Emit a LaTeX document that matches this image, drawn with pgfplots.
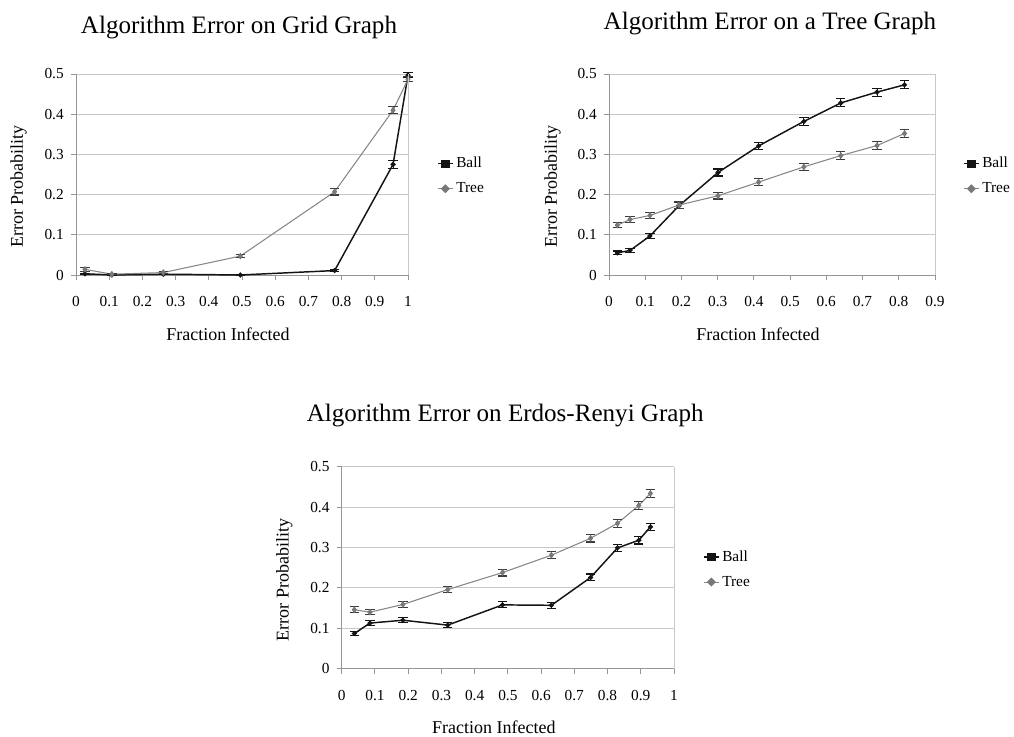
\documentclass[border=0pt]{standalone}
\usepackage{fontspec}
\setmainfont{Liberation Serif}
\usepackage{pgfplots}
\pgfplotsset{compat=1.18}
\definecolor{gridc}{RGB}{200,200,200}
\definecolor{axc}{RGB}{150,150,150}
\definecolor{treeln}{RGB}{135,135,135}
\definecolor{treemk}{RGB}{120,120,120}
\definecolor{ballc}{RGB}{20,20,20}
\definecolor{treeerr}{RGB}{60,60,60}

\pgfplotsset{
  errchart/.style={
    scale only axis, clip=false,
    axis lines=left, axis line style={axc, line width=0.7pt, -},
    ymin=0, ymax=0.5, ytick={0,0.1,0.2,0.3,0.4,0.5},
    ymajorgrids, grid style={gridc, line width=0.7pt},
    major tick style={axc, line width=0.7pt},
    tick align=outside, major tick length=3.75pt,
    /pgf/number format/assume math mode=true,
    /pgf/number format/fixed,
    tick label style={font=\fontsize{11.5}{13}\selectfont},
    yticklabel style={anchor=east, inner sep=0pt, xshift=-5.25pt},
    xticklabel style={anchor=base, inner sep=0pt, yshift=-20.25pt},
    label style={font=\fontsize{13.5}{16}\selectfont},
    title style={font=\fontsize{18.8}{22}\selectfont, anchor=base, at={(axis description cs:0.5,1)}},
    xlabel={Fraction Infected}, ylabel={Error Probability},
    xlabel style={at={(axis description cs:0.5,0)}, anchor=base, yshift=-49.3pt, xshift=-10.5pt},
    ylabel style={at={(axis description cs:-0.16,0.44)}, anchor=base},
    legend style={at={(axis description cs:1,0.5)}, anchor=west, draw=none, fill=none,
      inner sep=0pt, font=\fontsize{11.5}{13}\selectfont, row sep=5.6pt, yshift=-1.2pt,
      /tikz/every even column/.append style={column sep=1pt}},
    legend cell align=left,
    extra description/.code={\draw[gridc, line width=0.7pt] (axis description cs:1,0) -- (axis description cs:1,1);},
  },
  ballp/.style={ballc, line width=1.1pt, mark=*, mark size=1.3pt, mark options={solid, fill=ballc},
    legend image code/.code={\draw[ballc, line width=1pt] (0pt,0pt) -- (11.25pt,0pt); \fill[ballc] (2.6pt,-2.4pt) rectangle (8.6pt,2.4pt);},
    error bars/.cd, y dir=both, y explicit, error bar style={ballc, line width=0.8pt},
    error mark options={rotate=90, ballc, mark size=3.5pt, line width=0.8pt}},
  treep/.style={treeln, line width=0.8pt, mark=diamond*, mark size=1.9pt, mark options={solid, fill=treemk, draw=treemk},
    legend image code/.code={\draw[treeln, line width=0.8pt] (0pt,0pt) -- (11.25pt,0pt); \fill[treemk] (5.6pt,0pt) +(-2.8pt,0pt) -- +(0pt,2.8pt) -- +(2.8pt,0pt) -- +(0pt,-2.8pt) -- cycle;},
    error bars/.cd, y dir=both, y explicit, error bar style={treeerr, line width=0.8pt},
    error mark options={rotate=90, treeerr, mark size=3.5pt, line width=0.8pt}},
}

\begin{document}
\begin{tikzpicture}
\path[use as bounding box] (0pt,0pt) rectangle (760.5pt,552.75pt);

% ---------------- Grid graph ----------------
\begin{axis}[errchart, at={(57pt,346.5pt)}, anchor=south west,
  width=249pt, height=150.75pt,
  xmin=0, xmax=1, xtick={0,0.1,0.2,0.3,0.4,0.5,0.6,0.7,0.8,0.9,1},
  title={Algorithm Error on Grid Graph},
  title style={yshift=24.2pt, xshift=-2.25pt},
  legend style={xshift=21.75pt}]
\addplot[ballp] coordinates {
 (0.027,0.003) +- (0,0.0015)
 (0.108,0.000) +- (0,0.0005)
 (0.263,0.002) +- (0,0.001)
 (0.495,0.000) +- (0,0.0005)
 (0.779,0.011) +- (0,0.002)
 (0.955,0.275) +- (0,0.009)
 (1.000,0.497) +- (0,0.006)
};
\addlegendentry{Ball}
\addplot[treep] coordinates {
 (0.027,0.014) +- (0,0.005)
 (0.108,0.002) +- (0,0.001)
 (0.263,0.006) +- (0,0.002)
 (0.495,0.047) +- (0,0.004)
 (0.779,0.207) +- (0,0.008)
 (0.955,0.410) +- (0,0.009)
 (1.000,0.487) +- (0,0.006)
};
\addlegendentry{Tree}
\end{axis}

% ---------------- Tree graph ----------------
\begin{axis}[errchart, at={(456.75pt,346.5pt)}, anchor=south west,
  width=244.5pt, height=150.75pt,
  xmin=0, xmax=0.9, xtick={0,0.1,0.2,0.3,0.4,0.5,0.6,0.7,0.8,0.9},
  title={Algorithm Error on a Tree Graph},
  title style={yshift=27.7pt, xshift=-1.5pt},
  legend style={xshift=21pt}]
\addplot[ballp] coordinates {
 (0.023,0.055) +- (0,0.0046)
 (0.058,0.061) +- (0,0.0048)
 (0.113,0.097) +- (0,0.0059)
 (0.193,0.172) +- (0,0.0075)
 (0.301,0.255) +- (0,0.0087)
 (0.413,0.321) +- (0,0.0093)
 (0.538,0.382) +- (0,0.0097)
 (0.640,0.428) +- (0,0.0099)
 (0.740,0.455) +- (0,0.0100)
 (0.816,0.473) +- (0,0.0100)
};
\addlegendentry{Ball}
\addplot[treep] coordinates {
 (0.023,0.124) +- (0,0.0066)
 (0.058,0.138) +- (0,0.0069)
 (0.113,0.148) +- (0,0.0071)
 (0.193,0.174) +- (0,0.0076)
 (0.301,0.197) +- (0,0.0080)
 (0.413,0.231) +- (0,0.0084)
 (0.538,0.269) +- (0,0.0089)
 (0.640,0.297) +- (0,0.0091)
 (0.740,0.322) +- (0,0.0093)
 (0.816,0.352) +- (0,0.0096)
};
\addlegendentry{Tree}
\end{axis}

% ---------------- Erdos-Renyi graph ----------------
\begin{axis}[errchart, at={(256.3pt,51.2pt)}, anchor=south west,
  width=249.2pt, height=151.5pt,
  xmin=0, xmax=1, xtick={0,0.1,0.2,0.3,0.4,0.5,0.6,0.7,0.8,0.9,1},
  title={Algorithm Error on Erdos-Renyi Graph},
  title style={yshift=28pt, xshift=-2pt},
  xlabel style={yshift=0.55pt},
  legend style={xshift=21.75pt}]
\addplot[ballp] coordinates {
 (0.038,0.087) +- (0,0.0056)
 (0.085,0.113) +- (0,0.0063)
 (0.184,0.120) +- (0,0.0065)
 (0.319,0.108) +- (0,0.0062)
 (0.484,0.158) +- (0,0.0073)
 (0.631,0.157) +- (0,0.0073)
 (0.749,0.226) +- (0,0.0084)
 (0.830,0.299) +- (0,0.0092)
 (0.894,0.318) +- (0,0.0093)
 (0.929,0.351) +- (0,0.0095)
};
\addlegendentry{Ball}
\addplot[treep] coordinates {
 (0.038,0.146) +- (0,0.0071)
 (0.085,0.140) +- (0,0.0069)
 (0.184,0.159) +- (0,0.0073)
 (0.319,0.196) +- (0,0.0079)
 (0.484,0.238) +- (0,0.0085)
 (0.631,0.281) +- (0,0.0090)
 (0.749,0.323) +- (0,0.0094)
 (0.830,0.360) +- (0,0.0096)
 (0.894,0.404) +- (0,0.0098)
 (0.929,0.434) +- (0,0.0099)
};
\addlegendentry{Tree}
\end{axis}
\end{tikzpicture}
\end{document}
